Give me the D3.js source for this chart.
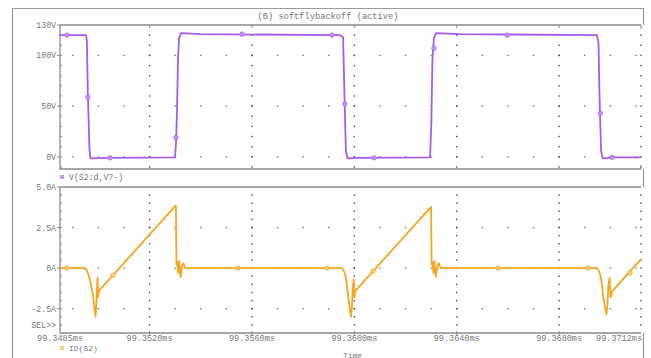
<!DOCTYPE html>
<html><head><meta charset="utf-8">
<script src="https://cdn.jsdelivr.net/npm/d3@7"></script>
<style>body{margin:0;background:#fff}svg{display:block}text{font-family:"Liberation Mono","DejaVu Sans Mono",monospace;fill:#777}</style>
</head><body><svg id="c" width="651" height="358"></svg>
<script>
// ---- data ----
const titleText = "(B) softflybackoff (active)";
const timeDomain = [99.3485, 99.3712];
const timeTicks = [99.352, 99.356, 99.360, 99.364, 99.368];
const timeTickLabels = ["99.3520ms", "99.3560ms", "99.3600ms", "99.3640ms", "99.3680ms"];
const timeEndLabels = ["99.3485ms", "99.3712ms"];
const vDomain = [-12, 130];
const vTicks = [0, 50, 100, 130];
const vTickLabels = ["0V", "50V", "100V", "130V"];
const iDomain = [-4, 5];
const iTicks = [-2.5, 0, 2.5, 5.0];
const iTickLabels = ["-2.5A", "0A", "2.5A", "5.0A"];
const vName = "V(S2:d,V?-)";
const iName = "ID(S2)";

const vTime = [99.34850,99.34952,99.34955,99.34959,99.34965,99.34969,99.35045,99.35299,99.35303,99.35307,99.35311,99.35315,99.35323,99.35397,
  99.35944,99.35956,99.35962,99.35967,99.35973,99.36022,99.36296,99.36301,99.36305,99.36311,99.36319,99.36413,
  99.36948,99.36954,99.36958,99.36964,99.36970,99.37018,99.37120];
const vValue = [120,120,114,60,8,-1.5,-1,-0.5,12,45,95,117,122,121,
  120,118,55,6,-1.5,-1,-0.5,35,95,117,122,121,
  120,112,60,6,-1.5,-0.5,-0.5];

const iTime = [99.34850,99.34948,99.34955,99.34963,99.34971,99.34979,99.34985,99.34989,99.34992,99.34995,99.34997,99.34999,99.35002,
  99.35301,99.35303,99.35305,99.35308,99.35312,99.35316,99.35321,99.35327,99.35333,99.35339,
  99.35952,99.35960,99.35967,99.35975,99.35981,99.35987,99.35991,99.35994,99.35997,99.36000,99.36004,
  99.36300,99.36302,99.36305,99.36309,99.36313,99.36318,99.36324,99.36330,99.36337,
  99.36948,99.36956,99.36964,99.36972,99.36979,99.36985,99.36989,99.36993,99.36997,99.37001,99.37009,99.37120];
const iValue = [0,0,-0.15,-0.5,-1.0,-1.7,-2.5,-3.0,-2.2,-1.0,-0.6,-1.8,-1.4,
  3.84,3.8,0.2,0.35,-0.3,0.45,-0.55,0.1,0.3,0,
  0,-0.2,-0.6,-1.6,-2.4,-3.0,-2.3,-1.2,-0.7,-1.8,-1.4,
  3.78,0.2,0.35,-0.3,0.45,-0.55,0.1,0.3,0,
  0,-0.2,-0.6,-1.7,-2.4,-2.85,-2.2,-1.0,-0.6,-1.8,-1.4,0.55];

const vMarkT = [99.34877,99.34959,99.35045,99.35303,99.35561,99.35913,99.35963,99.36077,99.36311,99.36597,99.36961,99.37007];
const vMarkV = [120,59,-1,19,121,120,52,-1,107,120,43,-0.5];
const iMarkT = [99.34877,99.35057,99.35545,99.35893,99.36073,99.36561,99.36913,99.37077];
const iMarkV = [0,-0.45,0,0,-0.2,0,0,-0.3];

// ---- layout ----
const svg = d3.select("#c");
const X0 = 60, X1 = 641;
const top1 = 25, bot1 = 169, top2 = 187, bot2 = 333;
const x = d3.scaleLinear().domain(timeDomain).range([X0, X1]);
const yV = d3.scaleLinear().domain(vDomain).range([bot1, top1]);
const yI = d3.scaleLinear().domain(iDomain).range([bot2, top2]);
const gray = "#8a8a8a";
const purple = "#a35cf2", orange = "#f7a51e";

// outer frame
svg.append("path").attr("d", "M12.5,358V8.5H643.5V25").attr("fill","none").attr("stroke","#9a9a9a").attr("stroke-width",1.2);
svg.append("path").attr("d", "M643.5,169V187M643.5,333V358").attr("fill","none").attr("stroke","#9a9a9a").attr("stroke-width",1.2);
svg.append("text").attr("x", 328).attr("y", 19).attr("text-anchor","middle").attr("font-size", 8.7).text(titleText);

// dotted grids
function grid(y, yMinor, yMajor, t, b) {
  const g = svg.append("g").attr("fill", "#4a4a4a");
  const vx = timeTicks.concat([timeDomain[1]]);
  vx.forEach(tv => {
    yMinor.forEach(v => {
      const yy = y(v);
      if (yy > t + 1 && yy < b - 1) g.append("rect").attr("x", x(tv) - 0.7).attr("y", yy - 0.7).attr("width", 1.4).attr("height", 1.4);
    });
  });
  const minorT = d3.range(99.349, 99.3711, 0.001);
  yMajor.forEach(v => {
    minorT.forEach(tv => {
      g.append("rect").attr("x", x(tv) - 0.7).attr("y", y(v) - 0.7).attr("width", 1.4).attr("height", 1.4)
        .attr("fill", Math.abs(((tv - 99.352) / 0.004) - Math.round((tv - 99.352) / 0.004)) < 1e-6 ? "#4a4a4a" : "#777");
    });
  });
}
grid(yV, d3.range(-10, 131, 10), [0, 50, 100], top1, bot1);
grid(yI, d3.range(-4, 5.01, 0.5), [-2.5, 0, 2.5], top2, bot2);

// plot borders
const bd = svg.append("g").attr("stroke", gray).attr("fill","none").attr("stroke-width", 1.3);
bd.append("path").attr("d", `M${X0},${top1}H${X1}M${X0},${top1}V${bot1}H${X1}`);
bd.append("path").attr("d", `M${X0},${top2}H${X1}M${X0},${top2}V${bot2}H${X1}`);
// small ticks on top borders / bottom axis
const tk = svg.append("g").attr("stroke", gray).attr("stroke-width", 1);
timeTicks.forEach(tv => {
  tk.append("line").attr("x1", x(tv)).attr("x2", x(tv)).attr("y1", top1).attr("y2", top1 + 3);
  tk.append("line").attr("x1", x(tv)).attr("x2", x(tv)).attr("y1", bot2 - 2).attr("y2", bot2 + 2);
});
tk.append("line").attr("x1", X1).attr("x2", X1).attr("y1", top1).attr("y2", top1 + 4);
tk.append("line").attr("x1", X1).attr("x2", X1).attr("y1", bot1 - 4).attr("y2", bot1);

// y axes
function yAxis(y, ticks, labels, minor, t, b) {
  const g = svg.append("g");
  ticks.forEach((v, i) => {
    g.append("line").attr("x1", X0 - 3).attr("x2", X0).attr("y1", y(v)).attr("y2", y(v)).attr("stroke", gray);
    g.append("text").attr("x", X0 - 4).attr("y", y(v) + 3).attr("text-anchor", "end").attr("font-size", 8.2).text(labels[i]);
  });
  minor.forEach(v => {
    const yy = y(v);
    if (yy > t + 1 && yy < b - 1) g.append("line").attr("x1", X0).attr("x2", X0 + 2).attr("y1", yy).attr("y2", yy).attr("stroke", gray);
  });
}
yAxis(yV, vTicks, vTickLabels, d3.range(-10, 131, 10), top1, bot1);
yAxis(yI, iTicks, iTickLabels, d3.range(-4, 5.01, 0.5), top2, bot2);
svg.append("text").attr("x", X0 - 4).attr("y", yI(-3.5) + 3).attr("text-anchor", "end").attr("font-size", 8.2).text("SEL>>");

// x labels
timeTicks.forEach((tv, i) => {
  svg.append("text").attr("x", x(tv)).attr("y", 341).attr("text-anchor", "middle").attr("font-size", 8.5).text(timeTickLabels[i]);
});
svg.append("text").attr("x", x(timeDomain[0])).attr("y", 341).attr("text-anchor", "middle").attr("font-size", 8.5).text(timeEndLabels[0]);
svg.append("text").attr("x", X1 + 1).attr("y", 341).attr("text-anchor", "end").attr("font-size", 8.5).text(timeEndLabels[1]);
svg.append("text").attr("x", (X0 + X1) / 2 + 2).attr("y", 357.5).attr("text-anchor", "middle").attr("font-size", 8).text("Time");

// traces
const vData = vTime.map((t, i) => [t, vValue[i]]);
const iData = iTime.map((t, i) => [t, iValue[i]]);
svg.append("path").datum(vData).attr("d", d3.line().x(d => x(d[0])).y(d => yV(d[1])))
  .attr("fill", "none").attr("stroke", purple).attr("stroke-width", 1.8).attr("stroke-linejoin", "round");
svg.append("path").datum(iData).attr("d", d3.line().x(d => x(d[0])).y(d => yI(d[1])))
  .attr("fill", "none").attr("stroke", orange).attr("stroke-width", 1.8).attr("stroke-linejoin", "round");
vMarkT.forEach((t, i) => svg.append("circle").attr("cx", x(t)).attr("cy", yV(vMarkV[i])).attr("r", 2.2).attr("fill", "#c89af7").attr("stroke", purple).attr("stroke-width", 0.8));
iMarkT.forEach((t, i) => svg.append("circle").attr("cx", x(t)).attr("cy", yI(iMarkV[i])).attr("r", 2.2).attr("fill", "#fbcf7a").attr("stroke", orange).attr("stroke-width", 0.8));

// legends
svg.append("rect").attr("x", 60).attr("y", 175).attr("width", 4).attr("height", 4).attr("fill", "#c89af7");
svg.append("text").attr("x", 69).attr("y", 180).attr("font-size", 8.2).text(vName);
svg.append("rect").attr("x", 60).attr("y", 346).attr("width", 4).attr("height", 4).attr("fill", "#fbcf7a");
svg.append("text").attr("x", 69).attr("y", 351).attr("font-size", 8).text(iName);
</script></body></html>
